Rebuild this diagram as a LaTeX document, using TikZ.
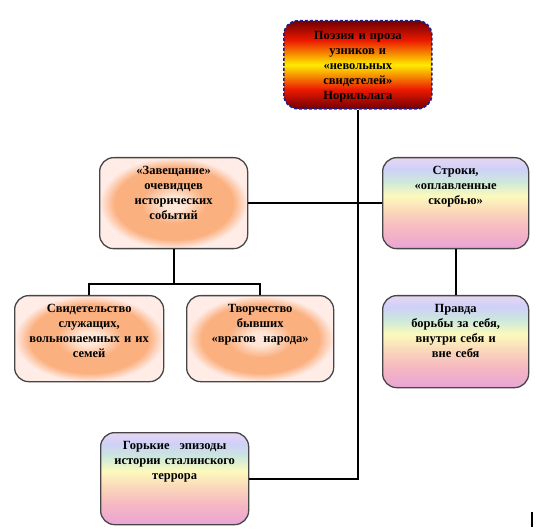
\documentclass[tikz,border=0pt]{standalone}
\usepackage{fontspec}
\setmainfont{Liberation Serif}
\usetikzlibrary{backgrounds}

\definecolor{fireDark}{RGB}{115,0,0}
\definecolor{fireRed}{RGB}{235,25,0}
\definecolor{fireYellow}{RGB}{255,235,0}
\definecolor{peachCore}{RGB}{255,230,214}
\definecolor{peachRing}{RGB}{251,176,128}
\definecolor{peachEdge}{RGB}{255,236,230}
\definecolor{rbLilac}{RGB}{232,214,242}
\definecolor{rbBlue}{RGB}{206,208,248}
\definecolor{rbGreen}{RGB}{204,232,220}
\definecolor{rbYellow}{RGB}{252,250,188}
\definecolor{rbPeach}{RGB}{250,214,186}
\definecolor{rbPink}{RGB}{246,184,194}
\definecolor{rbMagenta}{RGB}{232,164,214}
\definecolor{frameGray}{RGB}{70,70,70}
\definecolor{frameNavy}{RGB}{30,30,140}

\pgfdeclareverticalshading{fire}{100bp}{color(0bp)=(fireDark); color(25bp)=(fireDark);
	color(36bp)=(fireRed); color(50bp)=(fireYellow); color(64bp)=(fireRed);
	color(75bp)=(fireDark); color(100bp)=(fireDark)}
\pgfdeclareverticalshading{rainbow}{100bp}{color(0bp)=(rbMagenta); color(25bp)=(rbMagenta);
	color(36bp)=(rbPink); color(45bp)=(rbPeach); color(54bp)=(rbYellow);
	color(62bp)=(rbGreen); color(69bp)=(rbBlue); color(75bp)=(rbLilac); color(100bp)=(rbLilac)}
\pgfdeclareradialshading{peach}{\pgfpoint{0bp}{0bp}}{color(0bp)=(peachCore); color(4bp)=(peachCore);
	color(11bp)=(peachRing); color(20bp)=(peachRing); color(25bp)=(peachEdge); color(50bp)=(peachEdge)}

\begin{document}
\begin{tikzpicture}[x=1pt,y=-1pt,
	card/.style={
		draw=frameGray, % common look of all boxes
		line width=1.3pt,
		rounded corners=14pt,
		anchor=north west,
		inner sep=0pt,
		align=center,
		text height=17pt,
		font=\bfseries\fontsize{12.5}{15}\selectfont,
	},
	fiery/.style={card,draw=frameNavy,dash pattern=on 3pt off 2pt,line width=1.6pt,shading=fire},
	peachy/.style={card,shading=peach},
	pastel/.style={card,shading=rainbow},
	link/.style={line width=1.8pt,line join=miter},
]
	\useasboundingbox (0,0) rectangle (539,532);

	\node[fiery,text width=148pt,text height=19pt,text depth=69pt] (top) at (283,20)
		{Поэзия и проза\\узников и\\«невольных\\свидетелей»\\Норильлага};
	\node[peachy,text width=148pt,text depth=74pt] (testament) at (99,157)
		{«Завещание»\\очевидцев\\исторических\\событий};
	\node[pastel,text width=146pt,text depth=74pt] (lines) at (382,157)
		{Строки,\\«оплавленные\\скорбью»};
	\node[peachy,text width=149pt,text depth=69pt] (witness) at (14,295)
		{Свидетельство\\служащих,\\вольнонаемных и их\\семей};
	\node[peachy,text width=147pt,text depth=69pt] (creation) at (186,295)
		{Творчество\\бывших\\«врагов\hspace{0.6em}народа»};
	\node[pastel,text width=146pt,text depth=75pt] (truth) at (382,295)
		{Правда\\борьбы за себя,\\внутри себя и\\вне себя};
	\node[pastel,text width=148pt,text depth=75pt] (bitter) at (100,432)
		{Горькие\hspace{0.8em}эпизоды\\истории сталинского\\террора};

	\coordinate (bus) at (0,284);

	\draw[link] (top.south) |- (bitter.east);
	\draw[link] (testament.east) -- (lines.west);
	\draw[link] (testament.south) -- (testament.south |- bus);
	\draw[link] (witness.north) |- (creation.north |- bus) -- (creation.north);
	\draw[link] (lines.south) -- (truth.north);

	% stray mark at the lower right
	\draw[line width=2pt] (532,512) -- (532,527);

\end{tikzpicture}
\end{document}
